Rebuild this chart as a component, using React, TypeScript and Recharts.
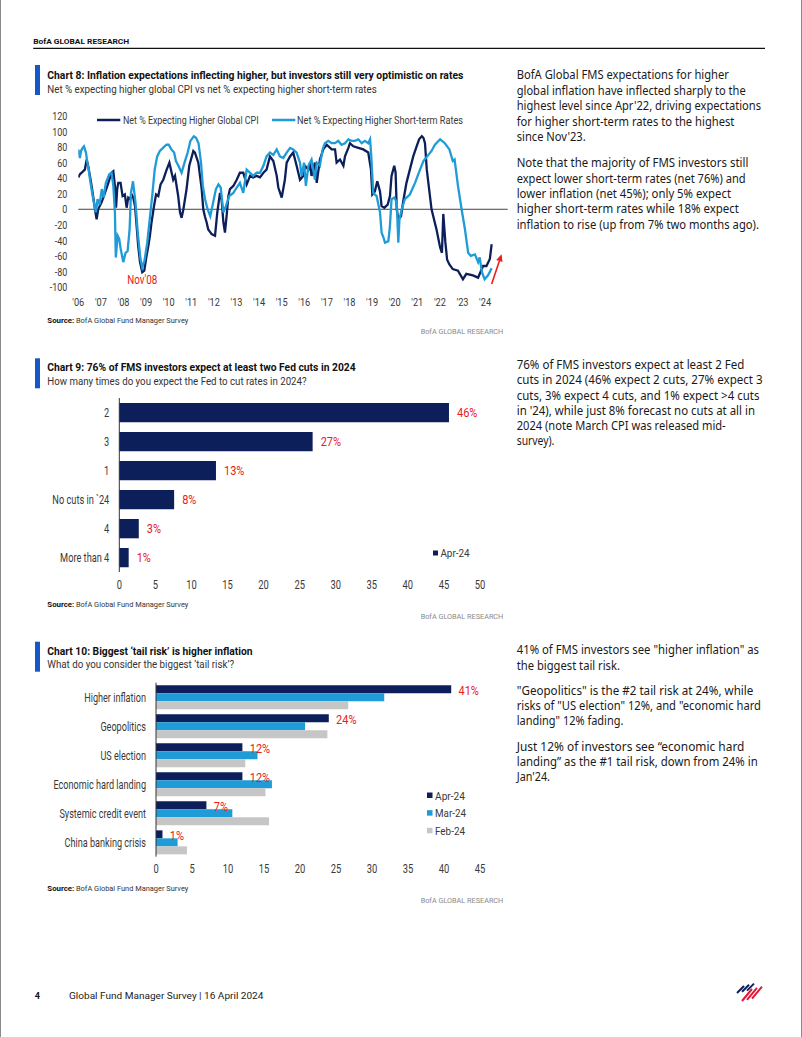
import React from 'react';
import { LineChart, Line, XAxis, YAxis, ReferenceLine, ReferenceDot, Legend, BarChart, Bar, LabelList } from 'recharts';

const NAVY = '#0c1f5b';
const SKY = '#1f9bd7';
const GRAY = '#c6c6c6';
const RED = '#e8201c';
const INK = '#1a1a1a';
const AXIS_TXT = '#3a3a3a';
const COND = 'Roboto, "Liberation Sans", sans-serif';
const BODY = '"Noto Sans", "Open Sans", sans-serif';

// ---------- Chart 8 data ----------
const cpiDates = [2006.0, 2006.07, 2006.15, 2006.22, 2006.29, 2006.37, 2006.44, 2006.52, 2006.59, 2006.67, 2006.74, 2006.81, 2006.88, 2006.96, 2007.03, 2007.18, 2007.33, 2007.47, 2007.55, 2007.62, 2007.67, 2007.72, 2007.77, 2007.87, 2007.96, 2008.06, 2008.14, 2008.21, 2008.29, 2008.36, 2008.43, 2008.51, 2008.58, 2008.65, 2008.73, 2008.83, 2008.92, 2009.02, 2009.1, 2009.17, 2009.24, 2009.35, 2009.44, 2009.54, 2009.64, 2009.76, 2009.91, 2010.03, 2010.13, 2010.2, 2010.28, 2010.35, 2010.42, 2010.5, 2010.57, 2010.65, 2010.79, 2010.91, 2011.09, 2011.16, 2011.31, 2011.46, 2011.53, 2011.6, 2011.68, 2011.75, 2011.9, 2012.05, 2012.15, 2012.27, 2012.34, 2012.42, 2012.49, 2012.56, 2012.64, 2012.71, 2012.86, 2013.01, 2013.15, 2013.3, 2013.45, 2013.6, 2013.74, 2013.89, 2014.04, 2014.19, 2014.33, 2014.48, 2014.63, 2014.78, 2014.85, 2015.0, 2015.14, 2015.22, 2015.37, 2015.51, 2015.66, 2015.81, 2015.96, 2016.03, 2016.18, 2016.25, 2016.32, 2016.47, 2016.55, 2016.69, 2016.84, 2016.99, 2017.21, 2017.36, 2017.43, 2017.58, 2017.73, 2017.8, 2017.95, 2018.02, 2018.17, 2018.39, 2018.61, 2018.83, 2018.95, 2019.01, 2019.12, 2019.23, 2019.35, 2019.42, 2019.54, 2019.69, 2019.79, 2019.86, 2019.98, 2020.04, 2020.09, 2020.16, 2020.28, 2020.37, 2020.52, 2020.67, 2020.82, 2020.97, 2021.08, 2021.2, 2021.27, 2021.34, 2021.42, 2021.63, 2021.85, 2022.01, 2022.09, 2022.15, 2022.24, 2022.32, 2022.42, 2022.57, 2022.8, 2023.02, 2023.17, 2023.46, 2023.69, 2023.91, 2024.06, 2024.21, 2024.29];
const cpiValues = [41, 45, 47, 49, 51, 64, 55, 42, 30, 14, 0, -13, 0, 5, 9, 21, 34, 47, 49, 30, 2, 26, 34, 34, 17, 19, 2, 15, 13, 19, 15, 4, -21, -47, -68, -81, -79, -60, -47, -34, -17, 4, 19, 17, 32, 38, 51, 60, 47, 38, 43, 30, 17, -4, -11, 0, 26, 56, 75, 73, 60, 26, 0, -9, -17, -26, -32, -34, -4, 21, 13, -17, -30, -9, 17, 26, 30, 38, 47, 47, 32, 43, 41, 43, 41, 47, 51, 68, 62, 43, 28, 15, 38, 60, 68, 73, 56, 38, 43, 56, 51, 60, 43, 60, 34, 64, 77, 83, 77, 77, 60, 64, 56, 68, 79, 85, 81, 79, 77, 73, 51, 19, 23, 36, 23, 4, 2, 6, 17, 43, 56, 47, 0, -13, -9, 9, 34, 51, 68, 81, 90, 94, 92, 85, 51, 0, -26, -49, -56, -6, -42, -65, -71, -77, -79, -90, -83, -85, -88, -73, -73, -64, -45];
const rateDates = [2006.0, 2006.07, 2006.12, 2006.19, 2006.25, 2006.34, 2006.4, 2006.46, 2006.52, 2006.66, 2006.78, 2006.85, 2006.94, 2007.04, 2007.12, 2007.22, 2007.37, 2007.47, 2007.55, 2007.62, 2007.66, 2007.74, 2007.81, 2007.87, 2007.99, 2008.09, 2008.18, 2008.27, 2008.33, 2008.42, 2008.53, 2008.63, 2008.75, 2008.83, 2008.93, 2009.05, 2009.16, 2009.27, 2009.38, 2009.49, 2009.61, 2009.75, 2009.9, 2010.0, 2010.12, 2010.24, 2010.32, 2010.43, 2010.57, 2010.72, 2010.84, 2010.96, 2011.11, 2011.21, 2011.32, 2011.43, 2011.51, 2011.61, 2011.72, 2011.84, 2011.94, 2012.09, 2012.2, 2012.3, 2012.42, 2012.53, 2012.68, 2012.86, 2013.01, 2013.15, 2013.3, 2013.45, 2013.6, 2013.74, 2013.89, 2014.04, 2014.19, 2014.33, 2014.48, 2014.63, 2014.78, 2014.92, 2015.07, 2015.22, 2015.37, 2015.51, 2015.66, 2015.81, 2015.88, 2015.99, 2016.07, 2016.18, 2016.32, 2016.47, 2016.55, 2016.69, 2016.81, 2016.91, 2017.06, 2017.21, 2017.36, 2017.5, 2017.65, 2017.8, 2017.95, 2018.09, 2018.24, 2018.39, 2018.54, 2018.68, 2018.83, 2018.91, 2018.96, 2019.05, 2019.2, 2019.35, 2019.42, 2019.5, 2019.57, 2019.72, 2019.79, 2019.86, 2019.98, 2020.09, 2020.16, 2020.21, 2020.31, 2020.45, 2020.67, 2020.9, 2021.04, 2021.27, 2021.49, 2021.63, 2021.78, 2022.01, 2022.22, 2022.42, 2022.57, 2022.65, 2022.8, 2022.96, 2023.11, 2023.25, 2023.37, 2023.55, 2023.69, 2023.76, 2023.86, 2023.98, 2024.13, 2024.29];
const rateValues = [77, 66, 75, 79, 81, 73, 60, 51, 38, 13, -4, 13, 6, 26, 15, 34, 45, 47, 30, -4, -62, -34, -38, -50, -68, -56, -54, -26, 21, 36, 9, -30, -64, -75, -66, -43, -13, 17, 51, 68, 75, 79, 83, 83, 77, 73, 62, 56, 47, 62, 73, 88, 94, 92, 85, 60, 30, 13, 0, -9, 5, 26, 32, 28, -4, 4, 17, 21, 28, 34, 21, 51, 47, 43, 47, 47, 56, 68, 73, 70, 77, 68, 66, 73, 79, 77, 73, 60, 43, 60, 30, 56, 64, 38, 60, 56, 77, 85, 88, 85, 85, 88, 83, 85, 90, 88, 88, 90, 85, 88, 85, 90, 70, 21, 17, -4, -30, -36, -43, -41, -21, 13, 15, 9, -43, -13, 0, 13, 19, 34, 45, 62, 70, 75, 83, 90, 85, 77, 62, 64, 30, 0, -26, -56, -60, -58, -68, -62, -81, -90, -85, -76];
const seriesNames8 = ['Net % Expecting Higher Global CPI', 'Net % Expecting Higher Short-term Rates'];
const yearTicks = [2006, 2007, 2008, 2009, 2010, 2011, 2012, 2013, 2014, 2015, 2016, 2017, 2018, 2019, 2020, 2021, 2022, 2023, 2024];
const valueTicks8 = [-100, -80, -60, -40, -20, 0, 20, 40, 60, 80, 100, 120];
const annotation8 = { x: 2008.83, y: -91, text: "Nov'08" };
const arrow8 = [{ x: 2024.29, y: -96 }, { x: 2024.73, y: -58 }];

// ---------- Chart 9 data ----------
const cutCategories = ['2', '3', '1', 'No cuts in `24', '4', 'More than 4'];
const cutValues = [45.7, 26.8, 13.4, 7.6, 2.7, 1.3];
const cutSeriesName = 'Apr-24';
const cutTicks = [0, 5, 10, 15, 20, 25, 30, 35, 40, 45, 50];

// ---------- Chart 10 data ----------
const riskCategories = ['Higher inflation', 'Geopolitics', 'US election', 'Economic hard landing', 'Systemic credit event', 'China banking crisis'];
const riskApr = [41, 24, 12, 12, 7, 0.9];
const riskMar = [31.7, 20.7, 14.1, 16.1, 10.6, 3.0];
const riskFeb = [26.7, 23.8, 12.4, 15.2, 15.7, 4.3];
const riskSeriesNames = ['Apr-24', 'Mar-24', 'Feb-24'];
const riskTicks = [0, 5, 10, 15, 20, 25, 30, 35, 40, 45];

// ---------- page text ----------
const para8 = [
  'BofA Global FMS expectations for higher',
  'global inflation have inflected sharply to the',
  "highest level since Apr'22, driving expectations",
  'for higher short-term rates to the highest',
  "since Nov'23.",
  'Note that the majority of FMS investors still',
  'expect lower short-term rates (net 76%) and',
  'lower inflation (net 45%); only 5% expect',
  'higher short-term rates while 18% expect',
  'inflation to rise (up from 7% two months ago).',
];
const para8W = [212.3, 229, 244.3, 217.7, 69, 231.7, 229, 214.3, 222.3, 242.3];
const para8Y = [79.3, 94.6, 110.3, 125.9, 141.3, 167.2, 182.6, 198, 213.4, 228.8];
const para9 = [
  '76% of FMS investors expect at least 2 Fed',
  'cuts in 2024 (46% expect 2 cuts, 27% expect 3',
  'cuts, 3% expect 4 cuts, and 1% expect >4 cuts',
  "in '24), while just 8% forecast no cuts at all in",
  '2024 (note March CPI was released mid-',
  'survey).',
];
const para9W = [227.7, 246, 242.7, 238.3, 209, 37.7];
const para9Y = [369.3, 384.3, 399.6, 414.6, 429.9, 444.9];
const para10 = [
  '41% of FMS investors see "higher inflation" as',
  'the biggest tail risk.',
  '"Geopolitics" is the #2 tail risk at 24%, while',
  'risks of "US election" 12%, and "economic hard',
  'landing" 12% fading.',
  'Just 12% of investors see \u201ceconomic hard',
  'landing\u201d as the #1 tail risk, down from 24% in',
  "Jan'24.",
];
const para10W = [242.3, 103.3, 236.7, 244.3, 106.7, 227.7, 241, 33.3];
const para10Y = [654.3, 669.6, 694.9, 709.9, 725.3, 750.6, 765.6, 780.9];

const PT = ({ x, y, w, size, weight = 400, fill = INK, family = COND, anchor = 'start', children }: any) => (
  <text x={x} y={y} fontSize={size} fontWeight={weight} fill={fill} fontFamily={family} textAnchor={anchor}
    textLength={w} lengthAdjust="spacingAndGlyphs">{children}</text>
);

const makeTick = (anchor: string, fs: number, sx: number, vshift: string, fmt?: (v: any) => string) => (props: any) => {
  const { x, y, payload } = props;
  const label = fmt ? fmt(payload.value) : String(payload.value);
  return (
    <g transform={`translate(${x},${y})`}>
      <text transform={`scale(${sx},1)`} textAnchor={anchor} dy={vshift} fontSize={fs} fill={AXIS_TXT} fontFamily={COND}>{label}</text>
    </g>
  );
};

const yearFmt = (v: number) => "'" + String(v).slice(2);

const Arrow = (props: any) => {
  const { x1, y1, x2, y2 } = props;
  const ang = Math.atan2(y2 - y1, x2 - x1);
  const L = 7, W = 3.3;
  const bx = x2 - L * Math.cos(ang), by = y2 - L * Math.sin(ang);
  const px = -Math.sin(ang) * W, py = Math.cos(ang) * W;
  return (
    <g>
      <line x1={x1} y1={y1} x2={bx} y2={by} stroke={RED} strokeWidth={1.6} />
      <polygon points={`${x2},${y2} ${bx + px},${by + py} ${bx - px},${by - py}`} fill={RED} />
    </g>
  );
};

const NovLabel = (props: any) => {
  const { cx, cy } = props;
  return (
    <g transform={`translate(${cx},${cy})`}>
      <text transform="scale(0.82,1)" textAnchor="middle" dy="0.36em" fontSize={12} fill={RED} fontFamily={COND}>{annotation8.text}</text>
    </g>
  );
};

const Legend8 = () => (
  <svg width={440} height={16} style={{ display: 'block', overflow: 'visible' }}>
    <line x1={0} x2={23.3} y1={7} y2={7} stroke={NAVY} strokeWidth={2.5} />
    <PT x={26} y={10.8} w={135.6} size={10} fill={AXIS_TXT}>{seriesNames8[0]}</PT>
    <line x1={175} x2={198.3} y1={7} y2={7} stroke={SKY} strokeWidth={2.5} />
    <PT x={200} y={10.8} w={166} size={10} fill={AXIS_TXT}>{seriesNames8[1]}</PT>
  </svg>
);

const Legend9 = () => (
  <svg width={70} height={14} style={{ display: 'block', overflow: 'visible' }}>
    <rect x={0} y={3.5} width={5} height={5} fill={NAVY} />
    <PT x={7.4} y={10.3} w={29.3} size={11} fill={AXIS_TXT}>{cutSeriesName}</PT>
  </svg>
);

const riskColors = [NAVY, SKY, GRAY];
const riskLegendW = [30, 31, 30];
const Legend10 = () => (
  <svg width={70} height={50} style={{ display: 'block', overflow: 'visible' }}>
    {riskSeriesNames.map((n, i) => (
      <g key={n}>
        <rect x={0} y={3.5 + i * 17.65} width={5.5} height={5.5} fill={riskColors[i]} />
        <PT x={8} y={10.5 + i * 17.65} w={riskLegendW[i]} size={11} fill={AXIS_TXT}>{n}</PT>
      </g>
    ))}
  </svg>
);

const RedLabel = (gap: number, dyShift: number) => (props: any) => {
  const { x, y, width, height, value } = props;
  const tx = x + width + gap;
  const ty = y + height / 2 + dyShift;
  return (
    <g transform={`translate(${tx},${ty})`}>
      <text transform="scale(0.88,1)" dy="0.36em" fontSize={12.5} fill={RED} fontFamily={COND}>{Math.round(value) + '%'}</text>
    </g>
  );
};

const cpiSeries = cpiDates.map((t, i) => ({ t, v: cpiValues[i] }));
const rateSeries = rateDates.map((t, i) => ({ t, v: rateValues[i] }));
const cutData = cutCategories.map((name, i) => ({ name, v: cutValues[i] }));
const riskData = riskCategories.map((name, i) => ({ name, apr: riskApr[i], mar: riskMar[i], feb: riskFeb[i] }));

const Logo = () => (
  <g>
    {[0, 1, 2].map((i) => (
      <line key={'n' + i} x1={737 + i * 5} y1={993 - i * 1.2} x2={744 + i * 5} y2={986 - i * 1.2} stroke={NAVY} strokeWidth={2} />
    ))}
    {[0, 1, 2].map((i) => (
      <line key={'r' + i} x1={738 + i * 5 + 4} y1={1001 - i * 1.2} x2={752 + i * 5} y2={989 - i * 1.2} stroke="#e31837" strokeWidth={2} />
    ))}
  </g>
);

export default function App() {
  return (
    <div style={{ position: 'absolute', left: 0, top: 0, width: 802, height: 1037, background: '#fff', overflow: 'hidden', boxSizing: 'border-box', borderLeft: '1px solid #8a8a8a', borderRight: '1px solid #8a8a8a' }}>
      <svg width={802} height={1037} style={{ position: 'absolute', left: -1, top: 0 }}>
        <PT x={33.2} y={43.5} w={96} size={7.5} weight={700} fill="#111">BofA GLOBAL RESEARCH</PT>
        <line x1={33.2} x2={765} y1={48.3} y2={48.3} stroke="#111" strokeWidth={1.3} />

        <rect x={35} y={65} width={5} height={30} fill="#1559c9" />
        <PT x={47.3} y={79.3} w={416} size={11.5} weight={700} fill="#111">Chart 8: Inflation expectations inflecting higher, but investors still very optimistic on rates</PT>
        <PT x={47.3} y={92.7} w={329.4} size={11} fill="#333">Net % expecting higher global CPI vs net % expecting higher short-term rates</PT>
        <PT x={47.3} y={323.3} w={27} size={7.5} weight={700} fill="#111">Source:</PT>
        <PT x={76} y={323.3} w={112.3} size={7.5} fill="#333">BofA Global Fund Manager Survey</PT>
        <PT x={420.7} y={334.3} w={82.6} size={7.5} fill="#8a8a8a">BofA GLOBAL RESEARCH</PT>

        <rect x={35} y={358.3} width={5} height={30} fill="#1559c9" />
        <PT x={47.3} y={370.7} w={308.3} size={11.5} weight={700} fill="#111">Chart 9: 76% of FMS investors expect at least two Fed cuts in 2024</PT>
        <PT x={47.3} y={385} w={259.3} size={11} fill="#333">How many times do you expect the Fed to cut rates in 2024?</PT>
        <PT x={47.3} y={607.3} w={27} size={7.5} weight={700} fill="#111">Source:</PT>
        <PT x={76} y={607.3} w={112.3} size={7.5} fill="#333">BofA Global Fund Manager Survey</PT>
        <PT x={420.7} y={618.7} w={82.6} size={7.5} fill="#8a8a8a">BofA GLOBAL RESEARCH</PT>

        <rect x={35} y={641.7} width={5} height={30} fill="#1559c9" />
        <PT x={47.3} y={655} w={205.3} size={11.5} weight={700} fill="#111">Chart 10: Biggest ‘tail risk’ is higher inflation</PT>
        <PT x={47.3} y={668.3} w={186.7} size={11} fill="#333">What do you consider the biggest ‘tail risk’?</PT>
        <PT x={47.3} y={891.3} w={27} size={7.5} weight={700} fill="#111">Source:</PT>
        <PT x={76} y={891.3} w={112.3} size={7.5} fill="#333">BofA Global Fund Manager Survey</PT>
        <PT x={420.7} y={902.7} w={82.6} size={7.5} fill="#8a8a8a">BofA GLOBAL RESEARCH</PT>

        {para8.map((t, i) => <PT key={'a' + i} x={516.7} y={para8Y[i]} w={para8W[i]} size={12} family={BODY}>{t}</PT>)}
        {para9.map((t, i) => <PT key={'b' + i} x={516.7} y={para9Y[i]} w={para9W[i]} size={12} family={BODY}>{t}</PT>)}
        {para10.map((t, i) => <PT key={'c' + i} x={516.7} y={para10Y[i]} w={para10W[i]} size={12} family={BODY}>{t}</PT>)}

        <PT x={34.8} y={999} w={5.2} size={9.5} weight={700} fill="#111">4</PT>
        <PT x={69} y={999} w={194.4} size={9.5} fill="#222">Global Fund Manager Survey | 16 April 2024</PT>
        <Logo />
      </svg>

      <div style={{ position: 'absolute', left: -1, top: 100, width: 520, height: 210 }}>
        <LineChart width={520} height={210} margin={{ top: 16, right: 12.3, bottom: 3, left: 0 }}>
          <XAxis dataKey="t" type="number" domain={[2006, 2025]} ticks={yearTicks} interval={0} axisLine={false} tickLine={false}
            tickSize={0} tickMargin={10.5} height={20} allowDataOverflow tick={makeTick('middle', 11.5, 0.8, '0.71em', yearFmt)} />
          <YAxis type="number" domain={[-100, 120]} ticks={valueTicks8} interval={0} axisLine={false} tickLine={false}
            tickSize={0} tickMargin={11} width={78.3} allowDataOverflow tick={makeTick('end', 11.5, 0.78, '0.36em')} />
          <ReferenceLine y={0} stroke="#444" strokeWidth={1} />
          <Line data={cpiSeries} dataKey="v" name={seriesNames8[0]} stroke={NAVY} strokeWidth={2.3} dot={false} type="linear" isAnimationActive={false} />
          <Line data={rateSeries} dataKey="v" name={seriesNames8[1]} stroke={SKY} strokeWidth={2.3} dot={false} type="linear" isAnimationActive={false} />
          <ReferenceDot x={annotation8.x} y={annotation8.y} r={0} shape={NovLabel} />
          <ReferenceLine segment={arrow8} shape={Arrow} ifOverflow="visible" />
          <Legend layout="horizontal" verticalAlign="middle" align="center" content={Legend8}
            wrapperStyle={{ top: 13, left: 96.7, width: 440, height: 16, overflow: 'visible' }} />
        </LineChart>
      </div>

      <div style={{ position: 'absolute', left: -1, top: 390, width: 500, height: 205 }}>
        <BarChart layout="vertical" width={500} height={205} data={cutData} margin={{ top: 8, right: 20, bottom: 3, left: 0 }} barSize={19.3}>
          <XAxis type="number" domain={[0, 50]} ticks={cutTicks} interval={0} axisLine={false} tickLine={false} tickSize={0}
            tickMargin={8.7} height={20} tick={makeTick('middle', 12, 0.78, '0.71em')} />
          <YAxis type="category" dataKey="name" width={119.3} axisLine={{ stroke: '#333', strokeWidth: 1 }} tickLine={false}
            tickSize={0} tickMargin={10} interval={0} tick={makeTick('end', 12, 0.77, '0.36em')} />
          <Bar dataKey="v" name={cutSeriesName} fill={NAVY} isAnimationActive={false}>
            <LabelList dataKey="v" content={RedLabel(8, 0)} />
          </Bar>
          <Legend layout="horizontal" verticalAlign="middle" align="center" content={Legend9}
            wrapperStyle={{ top: 157, left: 433.3, width: 70, height: 14, overflow: 'visible' }} />
        </BarChart>
      </div>

      <div style={{ position: 'absolute', left: -1, top: 670, width: 500, height: 210 }}>
        <BarChart layout="vertical" width={500} height={210} data={riskData} margin={{ top: 12.7, right: 20, bottom: 3.3, left: 0 }}
          barGap={0} barCategoryGap={2.65}>
          <XAxis type="number" domain={[0, 45]} ticks={riskTicks} interval={0} axisLine={false} tickLine={false} tickSize={0}
            tickMargin={8} height={20} tick={makeTick('middle', 12, 0.78, '0.71em')} />
          <YAxis type="category" dataKey="name" width={156} axisLine={{ stroke: '#333', strokeWidth: 1 }} tickLine={false}
            tickSize={0} tickMargin={10} interval={0} tick={makeTick('end', 12, 0.76, '0.36em')} />
          <Bar dataKey="apr" name={riskSeriesNames[0]} fill={NAVY} isAnimationActive={false}>
            <LabelList dataKey="apr" content={RedLabel(7.3, 1)} />
          </Bar>
          <Bar dataKey="mar" name={riskSeriesNames[1]} fill={SKY} isAnimationActive={false} />
          <Bar dataKey="feb" name={riskSeriesNames[2]} fill={GRAY} isAnimationActive={false} />
          <Legend layout="horizontal" verticalAlign="middle" align="center" content={Legend10}
            wrapperStyle={{ top: 119, left: 427, width: 70, height: 50, overflow: 'visible' }} />
        </BarChart>
      </div>
    </div>
  );
}
